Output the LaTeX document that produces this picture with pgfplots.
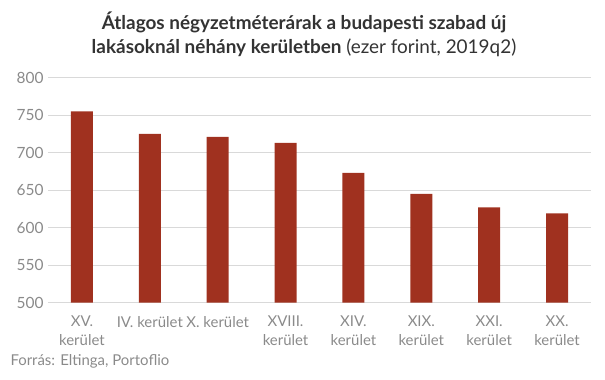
\documentclass[border=0pt]{standalone}
\usepackage{pgfplots}
\pgfplotsset{compat=1.18}
\usepackage{fontspec}
\setmainfont{Lato}
\definecolor{barred}{HTML}{A0311F}
\definecolor{gridgray}{HTML}{D9D9D9}
\definecolor{ticktext}{HTML}{8A8A8A}
\definecolor{titletext}{HTML}{333333}
\begin{document}
\begin{tikzpicture}[x=1bp,y=1bp]
\path (0,0) rectangle (605,379);
\begin{axis}[
  at={(48bp,76.3bp)}, anchor=south west,
  scale only axis,
  width=543bp, height=225.2bp,
  xmin=-0.5, xmax=7.5,
  ymin=500, ymax=800,
  ytick={500,550,...,800},
  xtick={0,...,7},
  xticklabels={{XV.\\kerület},{IV. kerület},{X. kerület},{XVIII.\\kerület},{XIV.\\kerület},{XIX.\\kerület},{XXI.\\kerület},{XX.\\kerület}},
  xticklabel style={align=center, text=ticktext, font=\fontsize{15}{19}\selectfont, yshift=-10bp},
  yticklabel style={text=ticktext, font=\fontsize{15.5}{18}\selectfont, xshift=-1bp},
  /pgf/number format/assume math mode=true,
  axis line style={draw=none},
  major tick length=0pt,
  ymajorgrids, grid style={gridgray, line width=1pt},
  ybar, bar width=22bp,
]
\addplot[fill=barred, draw=none] coordinates {(0,755) (1,725) (2,721) (3,713) (4,673) (5,645) (6,627) (7,619)};
\end{axis}
\node[text=titletext, font=\fontsize{19}{24}\selectfont, align=center] at (304,345) {\textbf{Átlagos négyzetméterárak a budapesti szabad új}\\\textbf{lakásoknál néhány kerületben} (ezer forint, 2019q2)};
\node[anchor=west, text=ticktext, font=\fontsize{15}{18}\selectfont] at (7,18) {Forrás: Eltinga, Portoflio};
\end{tikzpicture}
\end{document}
